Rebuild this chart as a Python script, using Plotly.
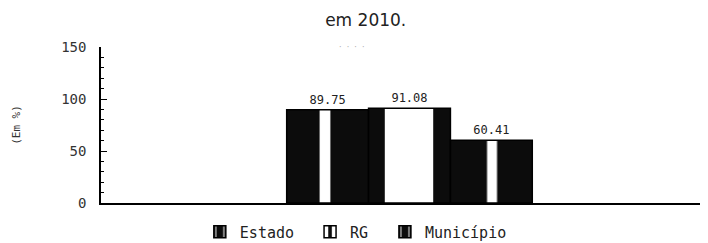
import plotly.graph_objects as go

categories = ["2010"]
series_names = ["Estado", "RG", "Município"]
values = [89.75, 91.08, 60.41]
value_labels = ["89.75", "91.08", "60.41"]
y_ticks = [0, 50, 100, 150]

patterns = [dict(shape="|", fgcolor="#ffffff", bgcolor="#0c0c0c", fgopacity=1, size=89.6, solidity=0.12),
            dict(shape="|", fgcolor="#ffffff", bgcolor="#0c0c0c", fgopacity=1, size=88, solidity=0.55),
            dict(shape="|", fgcolor="#ffffff", bgcolor="#0c0c0c", fgopacity=1, size=86.9, solidity=0.115)]
legend_ids = ["legend", "legend2", "legend3"]
legend_x = [0.165, 0.349, 0.474]

fig = go.Figure()
for name, v, lab, pat, lid in zip(series_names, values, value_labels, patterns, legend_ids):
    fig.add_trace(go.Bar(
        x=categories, y=[v], name=name, legend=lid,
        text=[lab], textposition="outside", cliponaxis=False,
        textfont=dict(family="DejaVu Sans Mono", size=12, color="#222"),
        marker=dict(color="#0c0c0c", line=dict(color="#000", width=1.5), pattern=pat),
    ))

legend_style = dict(orientation="h", xanchor="left", y=-0.08, yanchor="top",
                    font=dict(family="DejaVu Sans Mono", size=15, color="#222"),
                    bgcolor="rgba(0,0,0,0)")

fig.update_layout(
    width=700, height=235,
    margin=dict(l=93, r=8, t=39, b=40, autoexpand=False),
    paper_bgcolor="white", plot_bgcolor="white",
    barmode="group", bargap=0.59, bargroupgap=0,
    title=dict(text="em 2010.", x=0.511, xanchor="center", y=0.972, yanchor="top",
               font=dict(family="DejaVu Sans", size=17, color="#222")),
    font=dict(family="DejaVu Sans Mono", size=13, color="#333"),
    showlegend=True,
    legend=dict(x=legend_x[0], **legend_style),
    legend2=dict(x=legend_x[1], **legend_style),
    legend3=dict(x=legend_x[2], **legend_style),
    xaxis=dict(range=[-0.515, 0.485], showticklabels=False, ticks="",
               showline=True, linecolor="#000", linewidth=1.5, showgrid=False, zeroline=False),
    yaxis=dict(range=[0, 150], tickvals=y_ticks, ticks="inside", ticklen=6, tickcolor="#000",
               showline=True, linecolor="#000", linewidth=1.5, showgrid=False, zeroline=False,
               automargin=False, ticklabelstandoff=10,
               minor=dict(dtick=10, ticks="inside", ticklen=3, tickcolor="#000"),
               tickfont=dict(family="DejaVu Sans Mono", size=14, color="#333"),
               title=dict(text="(Em %)", font=dict(family="DejaVu Sans Mono", size=11, color="#333"),
                          standoff=38)),
    annotations=[dict(text="·  ·  ·  ·", x=0.419, y=1.0, xref="paper", yref="paper",
                      xanchor="center", yanchor="middle", showarrow=False,
                      font=dict(family="DejaVu Sans", size=8, color="#aaa"))],
)

fig.write_html("out.html")
